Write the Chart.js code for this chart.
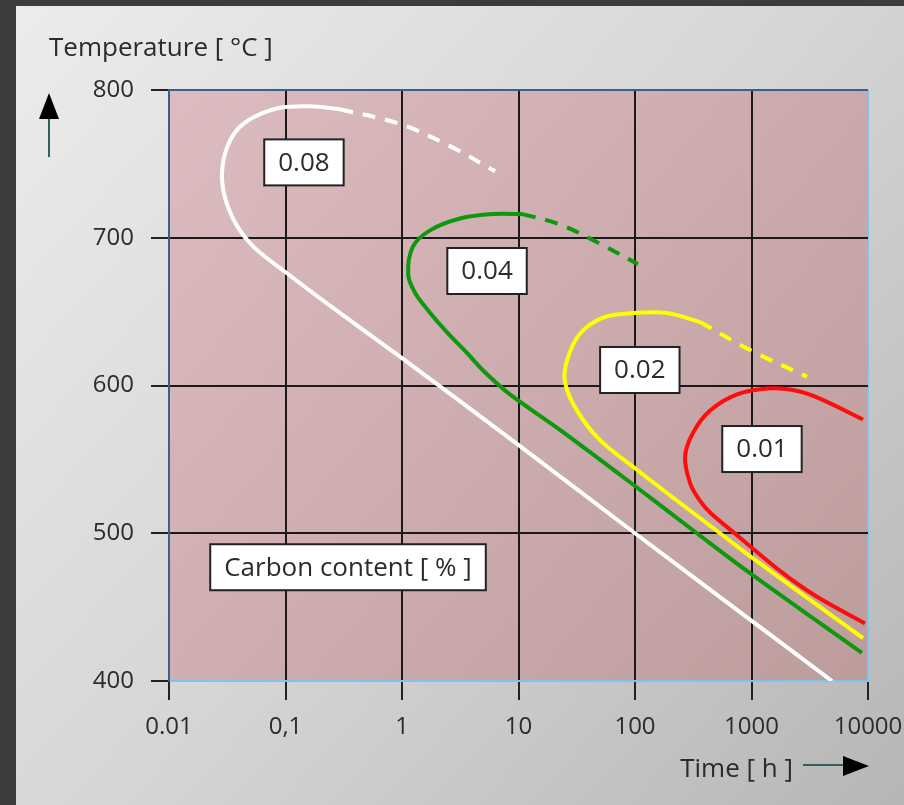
<!DOCTYPE html>
<html>
<head>
<meta charset="utf-8">
<script src="https://cdn.jsdelivr.net/npm/chart.js@4"></script>
<style>
  html, body { margin:0; padding:0; background:#3c3c3c; }
  canvas { display:block; }
</style>
</head>
<body>
<canvas id="chartTTT" width="904" height="805"></canvas>
<script>
// axis ticks
const xTicks = [0.01, 0.1, 1, 10, 100, 1000, 10000];
const xTickLabels = ["0.01", "0,1", "1", "10", "100", "1000", "10000"];
const yTicks = [400, 500, 600, 700, 800];

// 0.08 % C  (time in h, temperature in °C)
const c08Time = [4910, 991, 100, 9.9, 0.98, 0.241, 0.099, 0.0547, 0.0391, 0.0308, 0.0285, 0.0308, 0.0384, 0.0547, 0.0897, 0.162, 0.294];
const c08Temp = [400, 441, 500, 560, 619, 654, 677, 693, 707, 725, 742, 759, 773, 782, 788, 789, 787];
const c08DashTime = [0.294, 0.96, 2.58, 6.3];
const c08DashTemp = [787, 777, 762, 745];

// 0.04 % C
const c04Time = [8870, 970, 340, 100, 22.7, 8.45, 5.15, 3.61, 2.34, 1.67, 1.29, 1.13, 1.24, 1.74, 3.15, 6.04, 10.9];
const c04Temp = [419, 473, 500, 532, 570, 594, 609, 622, 637.5, 651, 663, 675, 694, 705, 713, 716, 716];
const c04DashTime = [10.9, 22.7, 50, 106];
const c04DashTemp = [716, 709, 696, 682];

// 0.02 % C
const c02Time = [9060, 990, 537, 230, 100, 50.1, 31.8, 25.1, 26.1, 33.7, 53.1, 96.2, 188, 361];
const c02Temp = [429, 484, 500, 522, 544, 563, 583, 602, 617, 635, 646, 649, 649, 643];
const c02DashTime = [361, 970, 2990];
const c02DashTemp = [643, 624, 606];

// 0.01 % C
const c01Time = [9420, 3650, 1860, 796, 441, 361, 297, 269, 315, 441, 752, 1360, 2270, 3650, 9060];
const c01Temp = [439, 457, 473, 497, 514, 522, 534, 552, 568, 583, 594, 598, 597, 592, 577];

// boxed labels, anchored at (time, temperature)
const boxText = ["0.08", "0.04", "0.02", "0.01", "Carbon content [ % ]"];
const boxTime = [0.144, 5.37, 110, 1230, 0.344];
const boxTemp = [751, 677.5, 610.5, 557, 477];

const FONT = "'Open Sans', 'Noto Sans', sans-serif";
const TEXT = "#2b2b2b";
const DARKBLUE = "#3d5f8f";
const LIGHTBLUE = "#7cc6ee";

function pts(xs, ys){ return xs.map((x,i)=>({x:x, y:ys[i]})); }

function curve(xs, ys, color, dashed){
  return {
    data: pts(xs, ys), borderColor: color, borderWidth: 4, pointRadius: 0,
    tension: 0.35, borderDash: dashed ? [13, 10] : [], borderCapStyle: "butt", fill: false
  };
}

const backdrop = {
  id: "backdrop",
  beforeDraw(chart){
    const c = chart.ctx, a = chart.chartArea;
    c.save();
    c.fillStyle = "#3c3c3c";
    c.fillRect(0, 0, chart.width, chart.height);
    let g = c.createLinearGradient(16, 6, chart.width, chart.height);
    g.addColorStop(0, "#ececec");
    g.addColorStop(0.5, "#d6d6d6");
    g.addColorStop(1, "#b6b6b6");
    c.fillStyle = g;
    c.fillRect(16, 6, chart.width - 16, chart.height - 6);
    g = c.createLinearGradient(a.left, a.top, a.right, a.bottom);
    g.addColorStop(0, "#dcbcc0");
    g.addColorStop(1, "#bd9c9c");
    c.fillStyle = g;
    c.fillRect(a.left, a.top, a.right - a.left, a.bottom - a.top);
    c.restore();
  }
};

const boxes = {
  id: "boxes",
  afterDatasetsDraw(chart){
    const c = chart.ctx, xs = chart.scales.x, ys = chart.scales.y;
    c.save();
    c.font = "26px " + FONT;
    c.textAlign = "center";
    c.textBaseline = "middle";
    boxText.forEach((t, i) => {
      const px = xs.getPixelForValue(boxTime[i]);
      const py = ys.getPixelForValue(boxTemp[i]);
      const w = c.measureText(t).width + 28, h = 46;
      c.fillStyle = "#fff";
      c.fillRect(px - w/2, py - h/2, w, h);
      c.lineWidth = 2;
      c.strokeStyle = "#222";
      c.strokeRect(px - w/2, py - h/2, w, h);
      c.fillStyle = TEXT;
      c.fillText(t, px, py + 1);
    });
    c.restore();
  }
};

const titles = {
  id: "titles",
  afterDraw(chart){
    const c = chart.ctx;
    c.save();
    c.fillStyle = TEXT;
    c.font = "26px " + FONT;
    c.textBaseline = "alphabetic";
    c.textAlign = "left";
    c.fillText("Temperature [ °C ]", 49, 56);
    c.textAlign = "right";
    c.fillText("Time [ h ]", 793, 777);

    // arrows
    c.strokeStyle = "#2f5f5f";
    c.lineWidth = 2;
    c.beginPath(); c.moveTo(49, 118); c.lineTo(49, 157); c.stroke();
    c.beginPath(); c.moveTo(803, 765); c.lineTo(845, 765); c.stroke();
    c.fillStyle = "#000";
    c.beginPath(); c.moveTo(49, 93); c.lineTo(59, 119); c.lineTo(39, 119); c.closePath(); c.fill();
    c.beginPath(); c.moveTo(869, 766); c.lineTo(843, 756); c.lineTo(843, 776); c.closePath(); c.fill();
    c.restore();
  }
};

window.addEventListener("DOMContentLoaded", () => {
  new Chart(document.getElementById("chartTTT"), {
    type: "line",
    data: {
      datasets: [
        curve(c08Time, c08Temp, "#ffffff", false),
        curve(c08DashTime, c08DashTemp, "#ffffff", true),
        curve(c04Time, c04Temp, "#0e980e", false),
        curve(c04DashTime, c04DashTemp, "#0e980e", true),
        curve(c02Time, c02Temp, "#ffff00", false),
        curve(c02DashTime, c02DashTemp, "#ffff00", true),
        curve(c01Time, c01Temp, "#ff0d0d", false),
      ]
    },
    options: {
      responsive: false, animation: false, devicePixelRatio: 1,
      layout: { padding: { left: 0, top: 90, right: 36, bottom: 0 } },
      plugins: { legend: { display: false }, tooltip: { enabled: false } },
      scales: {
        x: {
          type: "logarithmic", min: 0.01, max: 10000,
          afterBuildTicks: (s) => { s.ticks = xTicks.map(v => ({ value: v })); },
          afterFit: (s) => { s.height = 124; s.paddingLeft = 0; s.paddingRight = 0; },
          ticks: {
            autoSkip: false, maxRotation: 0, padding: 13, color: TEXT,
            font: { family: FONT, size: 24 },
            callback: (v) => xTickLabels[xTicks.indexOf(v)]
          },
          grid: {
            lineWidth: 2, tickLength: 19, tickColor: "#222",
            color: (ctx) => ctx.tick.value === 10000 ? LIGHTBLUE : (ctx.tick.value === 0.01 ? DARKBLUE : "#1a1a1a")
          },
          border: { color: LIGHTBLUE, width: 2 }
        },
        y: {
          min: 400, max: 800,
          afterBuildTicks: (s) => { s.ticks = yTicks.map(v => ({ value: v })); },
          afterFit: (s) => { s.width = 169; s.paddingTop = 0; s.paddingBottom = 0; },
          ticks: {
            padding: 17, color: TEXT,
            font: { family: FONT, size: 24 }
          },
          grid: {
            lineWidth: 2, tickLength: 18, tickColor: "#222",
            color: (ctx) => ctx.tick.value === 800 ? DARKBLUE : (ctx.tick.value === 400 ? LIGHTBLUE : "#1a1a1a")
          },
          border: { color: DARKBLUE, width: 2 }
        }
      }
    },
    plugins: [backdrop, boxes, titles]
  });
});
</script>
</body>
</html>
